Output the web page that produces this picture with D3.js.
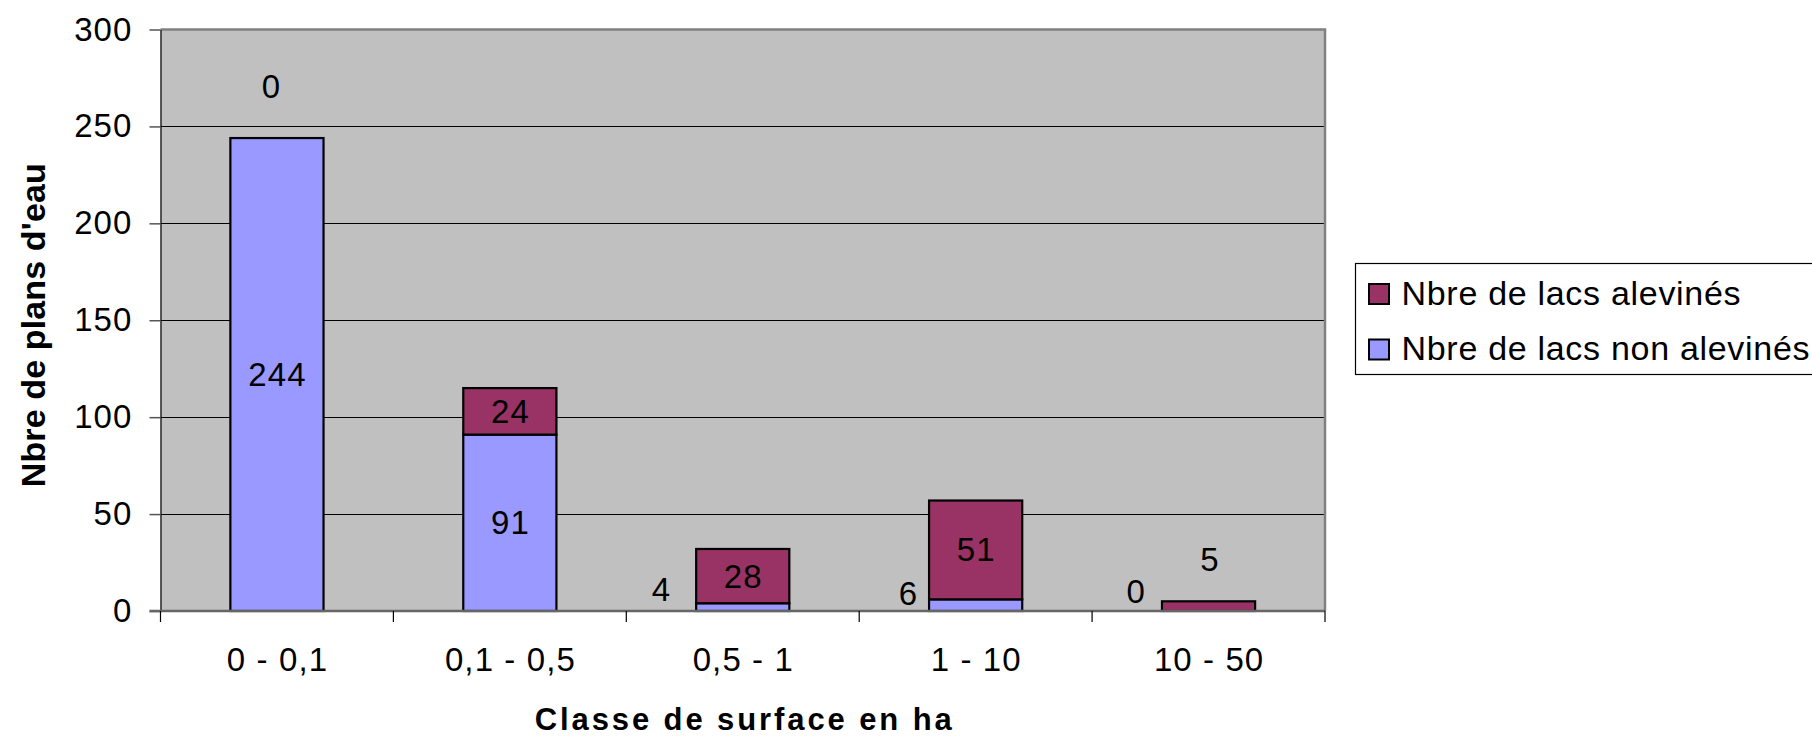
<!DOCTYPE html>
<html>
<head>
<meta charset="utf-8">
<script src="https://cdn.jsdelivr.net/npm/d3@7"></script>
<style>
  html, body { margin: 0; padding: 0; background: #fff; }
  svg { display: block; }
  text { font-family: "Liberation Sans", Arial, sans-serif; fill: #000; }
</style>
</head>
<body>
<svg id="chart" width="1812" height="736"></svg>
<script>
// ---- data ----
const categories = ["0 - 0,1", "0,1 - 0,5", "0,5 - 1", "1 - 10", "10 - 50"];
const nonAlevines = [244, 91, 4, 6, 0];
const alevines = [0, 24, 28, 51, 5];
const yTicks = [0, 50, 100, 150, 200, 250, 300];
const seriesKeys = ["nonAlevines", "alevines"];
const seriesNames = ["Nbre de lacs non alevinés", "Nbre de lacs alevinés"];
const yTitle = "Nbre de plans d'eau";
const xTitle = "Classe de surface en ha";

// label placement (style only): mode per series per category, plus small nudges
const labelMode = {
  nonAlevines: ["center", "center", "left", "left", "left"],
  alevines: ["above", "center", "center", "center", "above"]
};
const labelNudge = {
  nonAlevines: [[0, 0], [0, 0], [-9, -2], [5, 2], [0, 0]],
  alevines: [[-6, -52], [0, 0], [0, 0], [0, 0], [1, -42]]
};

// ---- layout ----
const colors = { nonAlevines: "#9999FF", alevines: "#993366" };
const plot = { left: 160.5, right: 1325, top: 29.5, bottom: 611 };
const FS = 33, LS = 1.1;

const svg = d3.select("#chart");

const table = categories.map((c, i) => ({ cat: c, nonAlevines: nonAlevines[i], alevines: alevines[i] }));
const stacked = d3.stack().keys(seriesKeys)(table);

const x = d3.scaleBand().domain(categories).range([plot.left, plot.right])
  .paddingInner(0.6).paddingOuter(0.3);
const y = d3.scaleLinear().domain([0, 300]).range([plot.bottom, plot.top]);

// plot background
svg.append("rect")
  .attr("x", plot.left).attr("y", plot.top)
  .attr("width", plot.right - plot.left).attr("height", plot.bottom - plot.top)
  .attr("fill", "#C0C0C0");

// gridlines
svg.append("g").selectAll("line")
  .data(yTicks.filter(t => t > 0 && t < 300))
  .join("line")
  .attr("x1", plot.left).attr("x2", plot.right)
  .attr("y1", d => Math.round(y(d)) + 0.5).attr("y2", d => Math.round(y(d)) + 0.5)
  .attr("stroke", "#000").attr("stroke-width", 1);

// plot border (gray)
svg.append("path")
  .attr("d", `M${plot.left},${plot.top}H${plot.right}V${plot.bottom}`)
  .attr("fill", "none").attr("stroke", "#808080").attr("stroke-width", 2.5);

// bars
const layers = svg.append("g").selectAll("g")
  .data(stacked).join("g")
  .attr("fill", d => colors[d.key]);

layers.selectAll("rect")
  .data(d => d.map(v => ({ key: d.key, v })))
  .join("rect")
  .filter(d => d.v[1] - d.v[0] > 0)
  .attr("x", d => x(d.v.data.cat))
  .attr("y", d => y(d.v[1]))
  .attr("width", x.bandwidth())
  .attr("height", d => y(d.v[0]) - y(d.v[1]))
  .attr("stroke", "#000").attr("stroke-width", 2.2);

// y axis
const yAxis = svg.append("g")
  .attr("transform", `translate(${plot.left},0)`)
  .call(d3.axisLeft(y).tickValues(yTicks).tickSize(11).tickPadding(17).tickSizeOuter(0));
yAxis.select(".domain").attr("stroke", "#000").attr("stroke-width", 1.2);
yAxis.selectAll(".tick line").attr("stroke", "#555").attr("stroke-width", 1.5);
yAxis.selectAll(".tick text")
  .style("font-family", "'Liberation Sans', Arial, sans-serif")
  .style("font-size", FS + "px").style("letter-spacing", LS + "px").attr("fill", "#000");

// x axis baseline
svg.append("line")
  .attr("x1", plot.left - 11).attr("x2", plot.right)
  .attr("y1", plot.bottom).attr("y2", plot.bottom)
  .attr("stroke", "#666").attr("stroke-width", 2.5);

// x tick marks at category boundaries
const boundaries = categories.map(c => x(c) - x.step() * x.paddingOuter()).concat([plot.right]);
svg.append("g").selectAll("line")
  .data(boundaries).join("line")
  .attr("x1", d => d).attr("x2", d => d)
  .attr("y1", plot.bottom).attr("y2", plot.bottom + 11)
  .attr("stroke", "#000").attr("stroke-width", 1.2);

// x labels
const xAxis = svg.append("g")
  .attr("transform", `translate(0,${plot.bottom})`)
  .call(d3.axisBottom(x).tickSize(0).tickPadding(0));
xAxis.select(".domain").remove();
xAxis.selectAll(".tick text")
  .attr("y", 60).attr("dy", 0).attr("dx", LS / 2)
  .style("font-family", "'Liberation Sans', Arial, sans-serif")
  .style("font-size", FS + "px").style("letter-spacing", LS + "px").attr("fill", "#000");

// data labels
const labelG = svg.append("g")
  .style("font-size", FS + "px").style("letter-spacing", LS + "px");
stacked.forEach(layer => {
  layer.forEach((v, i) => {
    const mode = labelMode[layer.key][i];
    const [ndx, ndy] = labelNudge[layer.key][i];
    const val = v[1] - v[0];
    const cx = x(v.data.cat) + x.bandwidth() / 2;
    let tx, ty, anchor = "middle";
    if (mode === "center") {
      tx = cx + LS / 2; ty = (y(v[0]) + y(v[1])) / 2;
    } else if (mode === "above") {
      tx = cx + LS / 2; ty = y(v[1]);
    } else {
      tx = x(v.data.cat) - 17 + LS; ty = y(0) - 20; anchor = "end";
    }
    labelG.append("text")
      .attr("x", tx + ndx).attr("y", ty + ndy)
      .attr("text-anchor", anchor)
      .attr("dominant-baseline", "central")
      .text(val);
  });
});

// axis titles
svg.append("text")
  .attr("transform", `translate(45,${(plot.top + plot.bottom) / 2 + 5}) rotate(-90)`)
  .attr("text-anchor", "middle")
  .style("font-size", "34px").style("font-weight", "bold")
  .attr("textLength", 324).attr("lengthAdjust", "spacing")
  .text(yTitle);

svg.append("text")
  .attr("x", (plot.left + plot.right) / 2 + 0.5).attr("y", 730)
  .attr("text-anchor", "middle")
  .style("font-size", "31px").style("font-weight", "bold")
  .attr("textLength", 417).attr("lengthAdjust", "spacing")
  .text(xTitle);

// legend
const legend = svg.append("g");
legend.append("rect")
  .attr("x", 1355.5).attr("y", 263.5).attr("width", 480).attr("height", 111)
  .attr("fill", "#fff").attr("stroke", "#000").attr("stroke-width", 1.2);
const legendItems = [
  { key: "alevines", name: seriesNames[1] },
  { key: "nonAlevines", name: seriesNames[0] }
];
const rowCenters = [294, 349.5];
legendItems.forEach((d, i) => {
  legend.append("rect")
    .attr("x", 1369).attr("y", rowCenters[i] - 10)
    .attr("width", 20).attr("height", 20)
    .attr("fill", colors[d.key]).attr("stroke", "#000").attr("stroke-width", 2);
  legend.append("text")
    .attr("x", 1401.5).attr("y", rowCenters[i] + 10.5)
    .style("font-size", "34px").style("letter-spacing", "0.7px")
    .text(d.name);
});
</script>
</body>
</html>
